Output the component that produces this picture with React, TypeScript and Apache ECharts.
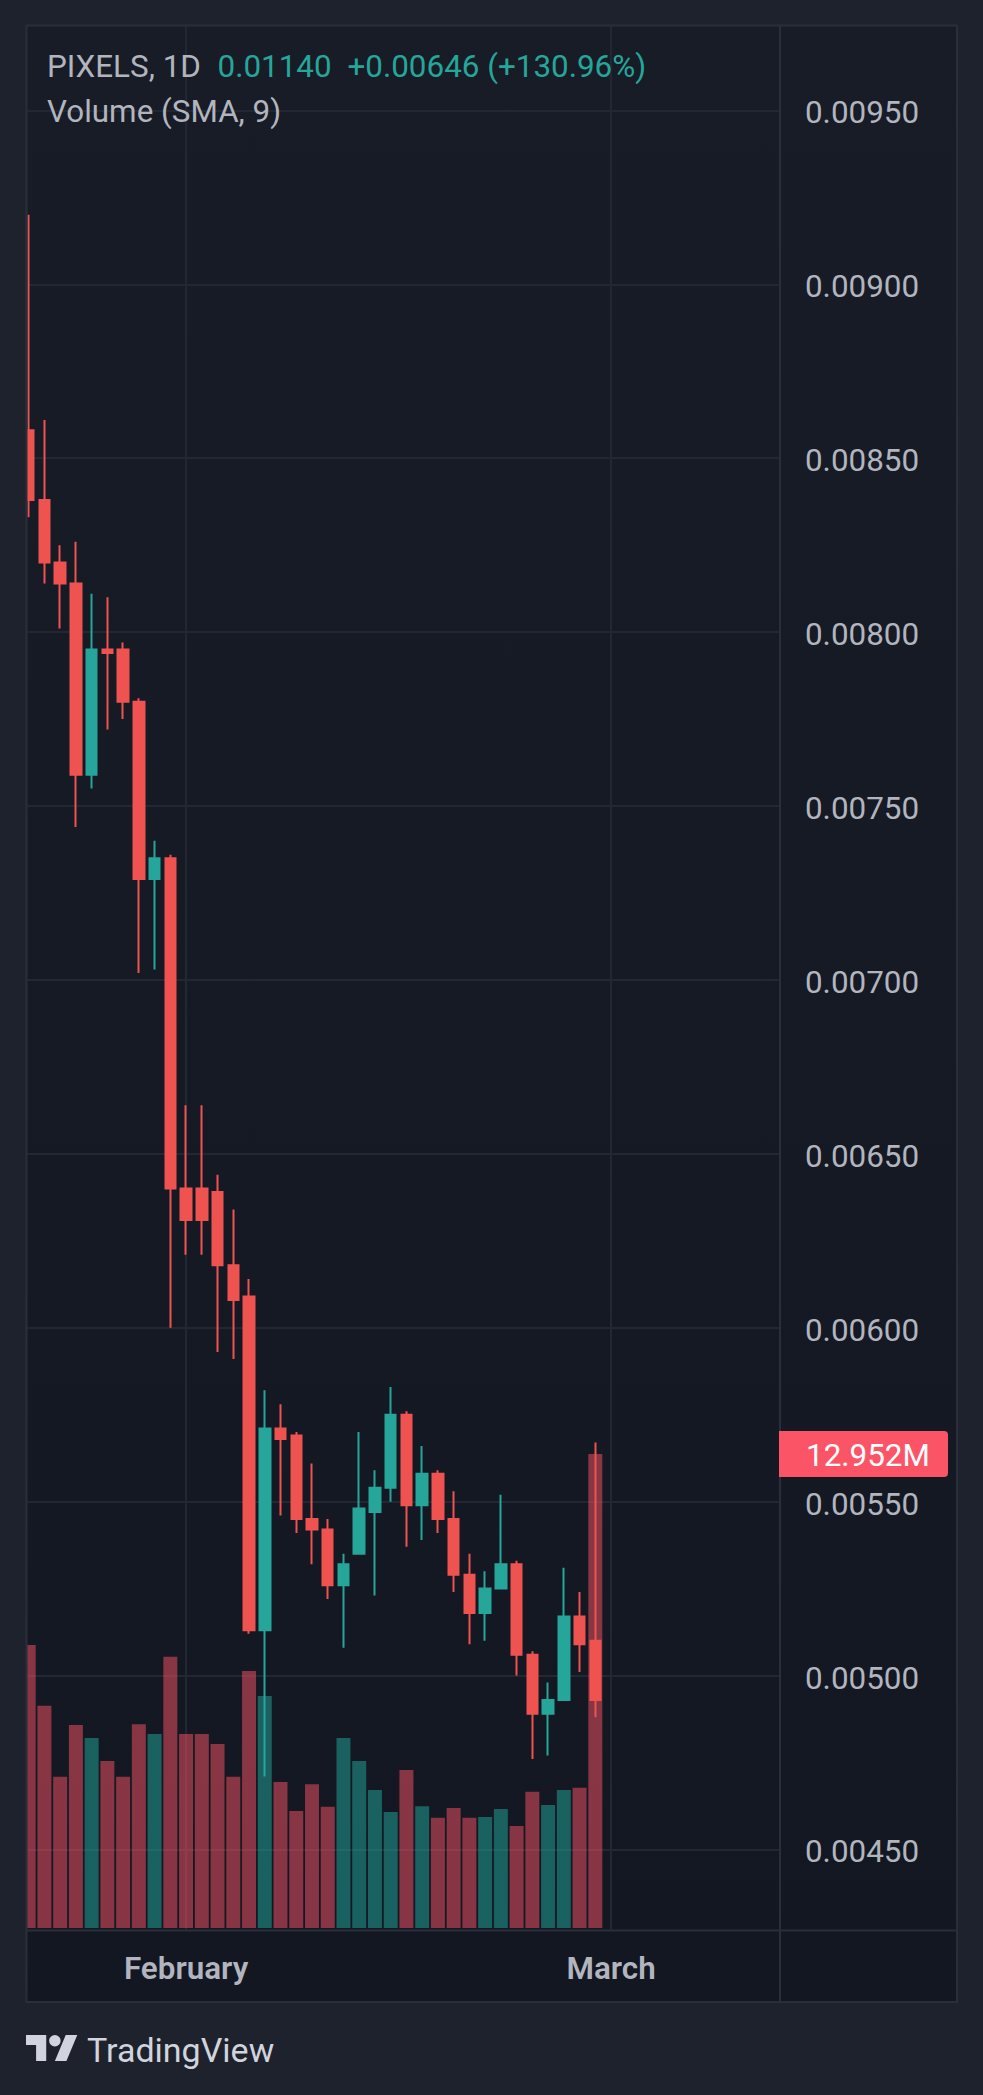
import React, { useEffect, useRef } from "react";
import * as echarts from "echarts";

// open, close, low, high
const opens = [0.00858,0.00838,0.0082,0.00814,0.00759,0.00795,0.00795,0.0078,0.00729,0.00735,0.0064,0.0064,0.00639,0.00618,0.00609,0.00513,0.00571,0.00569,0.00545,0.00542,0.00526,0.00535,0.00547,0.00554,0.00575,0.00549,0.00558,0.00545,0.00529,0.00518,0.00525,0.00532,0.00506,0.00489,0.00493,0.00517,0.0051];
const closes = [0.00838,0.0082,0.00814,0.00759,0.00795,0.00794,0.0078,0.00729,0.00735,0.0064,0.00631,0.00631,0.00618,0.00608,0.00513,0.00571,0.00568,0.00545,0.00542,0.00526,0.00532,0.00548,0.00554,0.00575,0.00549,0.00558,0.00545,0.00529,0.00518,0.00525,0.00532,0.00506,0.00489,0.00493,0.00517,0.00509,0.00493];
const lows = [0.00833,0.00814,0.00801,0.00744,0.00755,0.00772,0.00775,0.00702,0.00703,0.006,0.00621,0.00621,0.00593,0.00591,0.00512,0.00471,0.00546,0.00541,0.00532,0.00522,0.00508,0.00535,0.00523,0.0055,0.00537,0.00539,0.00541,0.00524,0.00509,0.0051,0.00525,0.005,0.00476,0.00477,0.00493,0.00501,0.00488];
const highs = [0.0092,0.00861,0.00825,0.00826,0.00811,0.0081,0.00797,0.00781,0.0074,0.00736,0.00664,0.00664,0.00644,0.00634,0.00614,0.00582,0.00578,0.0057,0.00561,0.00545,0.00535,0.0057,0.00559,0.00583,0.00576,0.00566,0.00559,0.00553,0.00535,0.0053,0.00552,0.00533,0.00507,0.00498,0.00531,0.00524,0.00567];
const volumesM = [7.73,6.07,4.13,5.55,5.19,4.56,4.13,5.57,5.3,7.41,5.3,5.3,5.03,4.13,7.02,6.34,3.99,3.2,3.93,3.31,5.19,4.56,3.77,3.17,4.32,3.33,3.01,3.28,3.01,3.03,3.25,2.79,3.72,3.36,3.77,3.83,12.952];
const priceTicks = [0.0045,0.005,0.0055,0.006,0.0065,0.007,0.0075,0.008,0.0085,0.009,0.0095];
const timeLabels: Record<number, string> = { 10: "February", 37: "March" };
const CATEGORY_COUNT = 49;

const UP = "#26a69a";
const DOWN = "#ef5350";
const GRID_LINE = "#232733";
const BORDER = "#2a2e39";
const PAGE = "#1e222d";
const FONT = "Roboto";
const FONT_SIZE = 31.4;

echarts.graphic.registerShape(
  "tvlogo",
  echarts.graphic.extendPath(
    "M14 22H7V11H0V4h14v18zM28 22h-8l7.5-18h8L28 22zM24 8a4 4 0 1 1-8 0 4 4 0 0 1 8 0z",
    {}
  ) as any
);

const plotGradient = () =>
  new echarts.graphic.LinearGradient(0, 0, 0, 1, [
    { offset: 0, color: "#181c27" },
    { offset: 1, color: "#131722" },
  ]);

function vline(x: number, y1: number, y2: number, z: number) {
  return { type: "line", z, silent: true, shape: { x1: x, y1, x2: x, y2 }, style: { stroke: BORDER, lineWidth: 2 } };
}
function hline(y: number, x1: number, x2: number, z: number) {
  return { type: "line", z, silent: true, shape: { x1, y1: y, x2, y2: y }, style: { stroke: BORDER, lineWidth: 2 } };
}
function label(text: string, x: number, y: number, fill: string, size = FONT_SIZE) {
  return {
    type: "text",
    z: 8,
    silent: true,
    style: { text, x, y, fill, font: `400 ${size}px ${FONT}`, verticalAlign: "middle", align: "left" },
  };
}

export default function App() {
  const ref = useRef<HTMLDivElement>(null);
  useEffect(() => {
    const chart = echarts.init(ref.current!, undefined, { renderer: "svg" });
    const categories = Array.from({ length: CATEGORY_COUNT }, (_, i) => timeLabels[i] ?? "");
    const showNamed = (_i: number, v: string) => v !== "";
    const priceMin = 0.0042685;
    const priceMax = 0.009744;

    chart.setOption({
      animation: false,
      backgroundColor: PAGE,
      textStyle: { fontFamily: FONT },
      grid: { left: 20.8, top: 25.5, width: 771.26, bottom: 165, containLabel: false },
      xAxis: {
        type: "category",
        data: categories,
        boundaryGap: true,
        axisLine: { show: false },
        axisTick: { show: false },
        axisLabel: {
          interval: showNamed,
          color: "#b2b5be",
          fontFamily: FONT,
          fontSize: FONT_SIZE,
          fontWeight: 600,
          margin: 23,
        },
        splitLine: {
          show: true,
          interval: showNamed,
          alignWithLabel: true,
          lineStyle: { color: GRID_LINE, width: 2 },
        },
      },
      yAxis: [
        {
          type: "value",
          position: "right",
          min: priceMin,
          max: priceMax,
          axisLine: { show: false },
          axisTick: { show: false, customValues: priceTicks },
          axisLabel: { show: false, customValues: priceTicks },
          splitLine: { show: true, lineStyle: { color: GRID_LINE, width: 2 } },
        },
        {
          type: "value",
          position: "right",
          z: 10,
          min: priceMin,
          max: priceMax,
          axisLine: { show: false },
          axisTick: { show: false, customValues: priceTicks },
          splitLine: { show: false },
          axisLabel: {
            customValues: priceTicks,
            showMinLabel: true,
            showMaxLabel: true,
            color: "#b2b5be",
            fontFamily: FONT,
            fontSize: FONT_SIZE,
            margin: 12.9,
            verticalAlign: "top",
            lineHeight: 5,
            formatter: (v: number) => v.toFixed(5),
          },
        },
        {
          type: "value",
          position: "right",
          min: -0.05465,
          max: 51.985,
          show: false,
          splitLine: { show: false },
        },
      ],
      series: [
        {
          type: "bar",
          name: "Volume",
          yAxisIndex: 2,
          barWidth: 14,
          z: 2,
          itemStyle: { borderWidth: 0 },
          data: volumesM.map((v, i) => ({
            value: v,
            itemStyle: { color: closes[i] >= opens[i] ? "rgba(32,170,158,0.5)" : "rgba(252,82,102,0.5)" },
          })),
        },
        {
          type: "candlestick",
          name: "PIXELS",
          yAxisIndex: 0,
          barWidth: 11,
          z: 3,
          itemStyle: {
            color: UP,
            color0: DOWN,
            borderColor: UP,
            borderColor0: DOWN,
            borderWidth: 2,
          },
          data: opens.map((o, i) => [o, closes[i], lows[i], highs[i]]),
        },
      ],
      graphic: {
        elements: [
          { type: "rect", z: -1, silent: true, shape: { x: 26, y: 25, width: 931, height: 1977 }, style: { fill: plotGradient() } },
          { type: "rect", z: 1, silent: true, shape: { x: 781, y: 25, width: 176, height: 1977 }, style: { fill: plotGradient() } },
          { type: "rect", z: 5, silent: true, shape: { x: 0, y: 0, width: 26, height: 2095 }, style: { fill: PAGE } },
          hline(25.5, 26, 957, 6),
          hline(1930.5, 26, 957, 6),
          hline(2002, 26, 957, 6),
          vline(26.5, 25, 2003, 6),
          vline(780, 25, 2003, 6),
          vline(957, 25, 2003, 6),
          { type: "rect", z: 7, silent: true, shape: { x: 779, y: 1431, width: 169, height: 46, r: [0, 4, 4, 0] }, style: { fill: "#fa5466" } },
          label("12.952M", 806, 1455, "#ffffff"),
          label("PIXELS, 1D", 47, 66, "#b2b5be"),
          label("0.01140", 217.5, 66, UP),
          label("+0.00646 (+130.96%)", 347.5, 66, UP),
          label("Volume (SMA, 9)", 47, 111, "#b2b5be"),
          {
            type: "tvlogo",
            z: 8,
            silent: true,
            x: 26,
            y: 2029.2,
            scaleX: 1.444,
            scaleY: 1.444,
            style: { fill: "#d1d4dc" },
          },
          label("TradingView", 87, 2050, "#d1d4dc", 34),
        ],
      },
    });
    return () => chart.dispose();
  }, []);
  return <div ref={ref} style={{ position: "absolute", left: 0, top: 0, width: 983, height: 2095 }} />;
}
